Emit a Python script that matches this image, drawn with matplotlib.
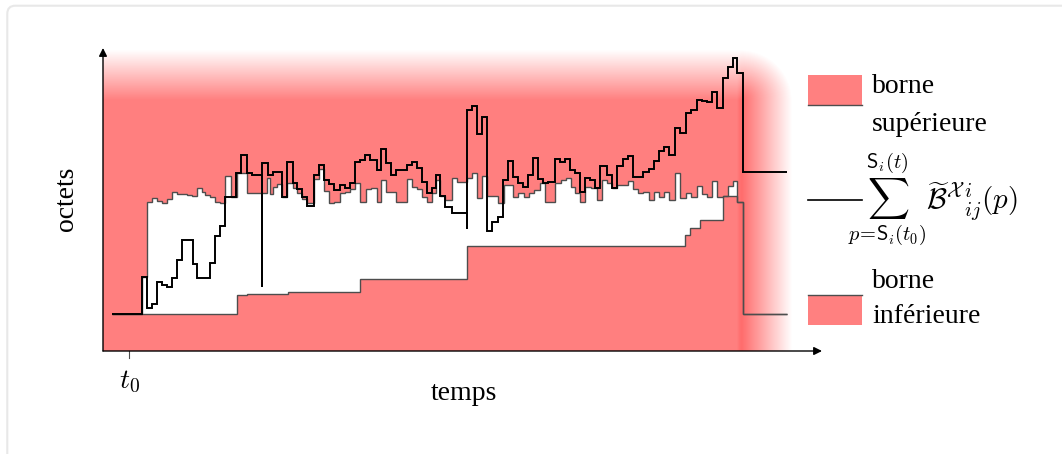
import numpy as np
import matplotlib
matplotlib.use("Agg")
import matplotlib.pyplot as plt
from matplotlib.patches import Rectangle, FancyBboxPatch

plt.rcParams["font.family"] = ["Liberation Serif", "DejaVu Serif"]
plt.rcParams["mathtext.fontset"] = "cm"

# time edges and byte levels of the cumulated sum (zero-width bins are glitches)
sum_edges = [9, 38.7, 43.7, 48.7, 53.7, 58.7, 63.7, 68.7, 73.7, 78.7,
             90, 94.3, 107, 112, 117, 122, 133, 138, 144, 149,
             158.7, 158.7, 165.3, 170, 179, 183.7, 189.7, 193.7, 199.3, 204.3,
             211, 216.3, 221.3, 226.3, 231.3, 237, 242, 247, 252, 257,
             262, 267, 273.7, 278, 283, 287.7, 292.7, 303.7, 308.7, 313.7,
             318.7, 323.7, 328.7, 333, 337, 342, 348.7, 363.7, 363.7, 368.7,
             373.7, 378.7, 384, 389.3, 395, 400, 405, 410, 415, 420,
             425, 430, 435, 440, 445, 452, 457, 462, 467, 472,
             477, 482, 487, 492, 497, 503.7, 508.7, 513.7, 519.7, 525.3,
             530.3, 540.3, 546.3, 551.3, 556.3, 561.3, 566.3, 572, 577, 583,
             587.7, 593.7, 598.7, 603.7, 608.7, 613.7, 619.7, 625.3, 630.3, 634.3,
             639.7, 684]
sum_levels = [37, 74, 43, 47, 69, 66, 64, 73, 91, 111,
              87, 73, 88, 115, 125, 154, 178, 196, 178, 176,
              64, 188, 176, 179, 154, 189, 168, 162, 154, 145,
              176, 186, 171, 167, 161, 166, 163, 168, 189, 191,
              196, 191, 181, 202, 188, 176, 181, 186, 189, 183,
              169, 158, 163, 176, 155, 144, 138, 122, 241, 245,
              217, 234, 120, 129, 134, 171, 190, 174, 168, 164,
              176, 193, 172, 168, 169, 192, 189, 192, 181, 178,
              159, 173, 171, 163, 185, 176, 163, 185, 192, 195,
              174, 179, 182, 190, 200, 204, 196, 223, 218, 238,
              241, 251, 250, 249, 259, 243, 273, 284, 293, 278,
              179]

# upper bound
upper_edges = [9, 38.7, 43.7, 48.7, 53.7, 58.7, 63.7, 68.7, 73.7, 83.7,
               88.7, 93.7, 98.7, 102, 107, 112, 117, 122, 128, 133.7,
               143.7, 163.7, 167, 169.7, 173.7, 179.3, 184.3, 189.7, 193.7, 199.3,
               204.3, 211, 216.3, 221.3, 226.3, 231.3, 237, 242, 247, 252,
               257, 263, 268, 273.7, 278, 283, 292.7, 303.7, 308.7, 313.7,
               318.7, 323.7, 328.7, 333, 337, 342, 348.7, 353.7, 363.7, 368.7,
               373.7, 378.7, 384, 395, 401.3, 410.3, 415.3, 421.3, 426.3, 431.3,
               437, 442, 452, 458, 463, 468, 472, 477, 482, 488,
               493.7, 498.7, 503.7, 508.7, 513.7, 525.3, 530.3, 535.3, 540.3, 546.3,
               551.3, 556.3, 561.3, 566.3, 572, 577, 583, 587.7, 593.7, 598.7,
               603.7, 608.7, 613.7, 619.7, 625.3, 630.3, 634.3, 639.7, 684]
upper_levels = [37, 74, 149, 153, 150, 148, 152, 159, 157, 156,
                155, 163, 159, 156, 154, 149, 148, 175, 154, 178,
                158, 173, 157, 164, 167, 154, 168, 163, 158, 152,
                148, 172, 182, 160, 148, 149, 158, 159, 162, 168,
                149, 162, 163, 149, 171, 159, 149, 172, 164, 162,
                154, 149, 158, 171, 155, 151, 173, 169, 173, 178,
                153, 175, 155, 148, 166, 154, 158, 154, 158, 161,
                168, 149, 168, 171, 173, 164, 158, 149, 164, 163,
                151, 171, 168, 163, 166, 170, 162, 158, 159, 151,
                159, 154, 159, 151, 178, 153, 158, 154, 165, 157,
                154, 170, 154, 155, 165, 170, 149, 37]

# lower bound
lower_edges = [9, 133.7, 143.7, 185.3, 257, 363.7, 582, 587, 597, 619.7, 634.3, 639.7, 684]
lower_levels = [37, 56, 57, 59, 72, 105, 116, 123, 131, 155, 149, 37]

red = "#ff8080"
gray = "#4d4d4d"


def step_at(edges, levels, t):
    idx = np.searchsorted(edges, t, side="right") - 1
    idx = np.clip(idx, 0, len(levels) - 1)
    return np.asarray(levels)[idx]


fig = plt.figure(figsize=(10.62, 4.54), dpi=100)
ax = fig.add_axes([0, 0, 1, 1])

# shaded red background with fading top and right borders
W, H = 690, 303
T, V = np.meshgrid(np.arange(W) + 0.5, np.arange(H)[::-1] + 0.5)
dx = np.clip((T - 637) / 52.0, 0, None)
dy = np.clip((V - 251) / 50.0, 0, None)
alpha = np.clip(1 - np.hypot(dx, dy), 0, 1)
g = 0.5 - 0.1 * np.clip((T - 634) / 5.0, 0, 1)
rgba = np.dstack([np.ones_like(T), g, g, alpha])
ax.imshow(rgba, extent=(0, W, 0, H), origin="upper", interpolation="bilinear",
          aspect="auto", zorder=0)

# white band between the bounds
grid = np.union1d(upper_edges, lower_edges)
up = step_at(upper_edges, upper_levels, grid)
lo = step_at(lower_edges, lower_levels, grid)
ax.fill_between(grid, lo, up, step="post", color="white", lw=0, zorder=1)

ax.stairs(lower_levels, lower_edges, baseline=None, color=gray, lw=1.0, zorder=2)
ax.stairs(upper_levels, upper_edges, baseline=None, color=gray, lw=1.0, zorder=2)
ax.stairs(sum_levels, sum_edges, baseline=None, color="black", lw=1.4, zorder=3)

# axes with arrows
arrow = dict(arrowstyle="-|>", color="black", lw=1.0, mutation_scale=12,
             shrinkA=0, shrinkB=0)
ax.annotate("", xy=(0, 303), xytext=(0, 0), arrowprops=arrow, zorder=4)
ax.annotate("", xy=(719, 0), xytext=(0, 0), arrowprops=arrow, zorder=4)
ax.plot([26, 26], [0, -7], color=gray, lw=0.8)
ax.text(26, -31, r"$t_0$", fontsize=20, ha="center", va="center")
ax.text(361, -42, "temps", fontsize=20, ha="center", va="center")
ax.text(-37, 152, "octets", fontsize=20, ha="center", va="center", rotation=90)

# legend
ax.add_patch(Rectangle((705, 246), 54, 30, facecolor=red, edgecolor="none"))
ax.plot([705, 759], [246, 246], color=gray, lw=1.0)
ax.add_patch(Rectangle((705, 26), 54, 30, facecolor=red, edgecolor="none"))
ax.plot([705, 759], [56, 56], color=gray, lw=1.0)
ax.plot([705, 759], [151, 151], color="black", lw=1.2)
ax.text(769, 258, "borne", fontsize=20, ha="left", va="baseline")
ax.text(769, 220, "supérieure", fontsize=20, ha="left", va="baseline")
ax.text(769, 63, "borne", fontsize=20, ha="left", va="baseline")
ax.text(769, 28, "inférieure", fontsize=20, ha="left", va="baseline")
ax.text(745, 151,
        r"$\sum_{p\!=\!\mathsf{S}_i(t_0)}^{\mathsf{S}_i(t)}"
        r"\widetilde{\mathcal{B}}^{\mathcal{X}}{}^{i}_{ij}(p)$",
        fontsize=21, ha="left", va="center")

# card frame
ax.add_patch(FancyBboxPatch((-95.7, -200), 1200, 545.3,
                            boxstyle="round,pad=0,rounding_size=8",
                            facecolor="none", edgecolor="#e8e8e8", lw=1.5))

ax.set_xlim(-103, 959)
ax.set_ylim(-103, 351)
ax.axis("off")
fig.savefig("out.png", dpi=100)
